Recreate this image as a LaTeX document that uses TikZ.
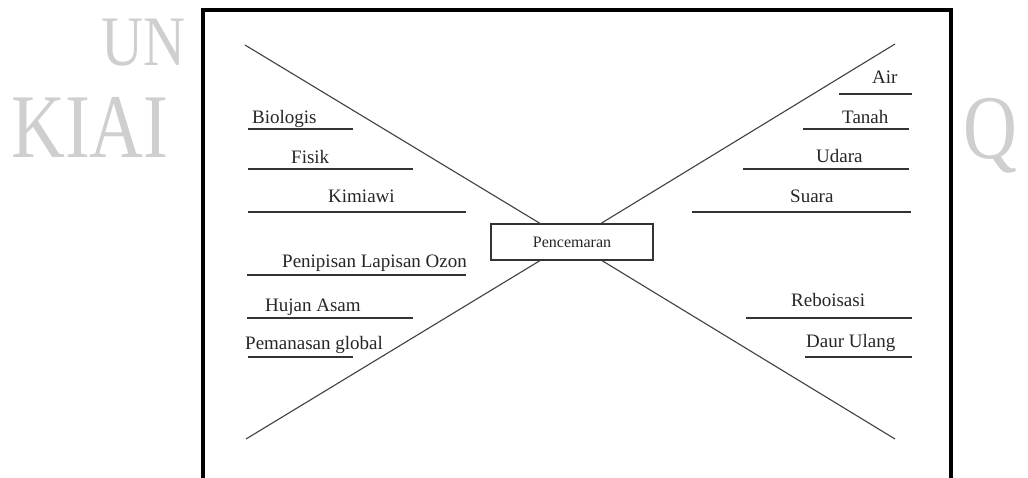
\documentclass[tikz,border=0pt]{standalone}
\usepackage{fontspec}
\setmainfont{Liberation Serif}
\begin{document}
\begin{tikzpicture}[x=1pt,y=-1pt,
  lbl/.style={anchor=base west, inner sep=0pt, font=\fontsize{19}{22}\selectfont, text=black!85},
  ul/.style={line width=1.5pt, draw=black!80},
  diag/.style={line width=1.1pt, draw=black!75},
  wm/.style={text=black!19, inner sep=0pt, anchor=base west, xscale=0.82},
  frame/.style={line width=4pt, draw=black, line join=miter},
  mainbox/.style={draw=black!80, line width=1.2pt, minimum width=162pt, minimum height=36pt, inner sep=0pt, font=\fontsize{16}{18}\selectfont, text=black!85}]
\useasboundingbox (0,0) rectangle (1028,477);
\fill[white] (0,0) rectangle (1028,477);
% watermark
\node[wm, font=\fontsize{71}{71}\selectfont] (wm1) at (101,65) {UN};
\node[wm, font=\fontsize{91}{91}\selectfont] (wm2) at (11,157) {KIAI};
\node[wm, font=\fontsize{91}{91}\selectfont] (wm3) at (963,158) {Q};
% frame
\draw[frame] (203,482) -- (203,10) -- (951,10) -- (951,482);
% centre box
\node[mainbox] (pen) at (572,242) {Pencemaran};
% diagonals
\coordinate (tl) at (245,45);
\coordinate (tr) at (895,44);
\coordinate (bl) at (246,439);
\coordinate (br) at (895,439);
\draw[diag] (tl) -- ([xshift=-32pt]pen.north);
\draw[diag] (tr) -- ([xshift=29pt]pen.north);
\draw[diag] (bl) -- ([xshift=-32pt]pen.south);
\draw[diag] (br) -- ([xshift=30pt]pen.south);
% left top labels
\node[lbl] (bio) at (252,123) {Biologis};
\draw[ul] (248,129) -- (353,129);
\node[lbl] (fis) at (291,163) {Fisik};
\draw[ul] (248,169) -- (413,169);
\node[lbl] (kim) at (328,202) {Kimiawi};
\draw[ul] (248,212) -- (466,212);
% left bottom labels
\node[lbl] (ozon) at (282,267) {Penipisan Lapisan Ozon};
\draw[ul] (247,275) -- (466,275);
\node[lbl] (hujan) at (265,311) {Hujan Asam};
\draw[ul] (247,318) -- (413,318);
\node[lbl] (pem) at (245,349) {Pemanasan global};
\draw[ul] (248,357) -- (353,357);
% right top labels
\node[lbl] (air) at (872,83) {Air};
\draw[ul] (839,94) -- (912,94);
\node[lbl] (tanah) at (842,123) {Tanah};
\draw[ul] (803,129) -- (909,129);
\node[lbl] (udara) at (816,162) {Udara};
\draw[ul] (743,169) -- (909,169);
\node[lbl] (suara) at (790,202) {Suara};
\draw[ul] (692,212) -- (911,212);
% right bottom labels
\node[lbl] (rebo) at (791,306) {Reboisasi};
\draw[ul] (746,318) -- (912,318);
\node[lbl] (daur) at (806,347) {Daur Ulang};
\draw[ul] (805,357) -- (912,357);
\end{tikzpicture}
\end{document}
